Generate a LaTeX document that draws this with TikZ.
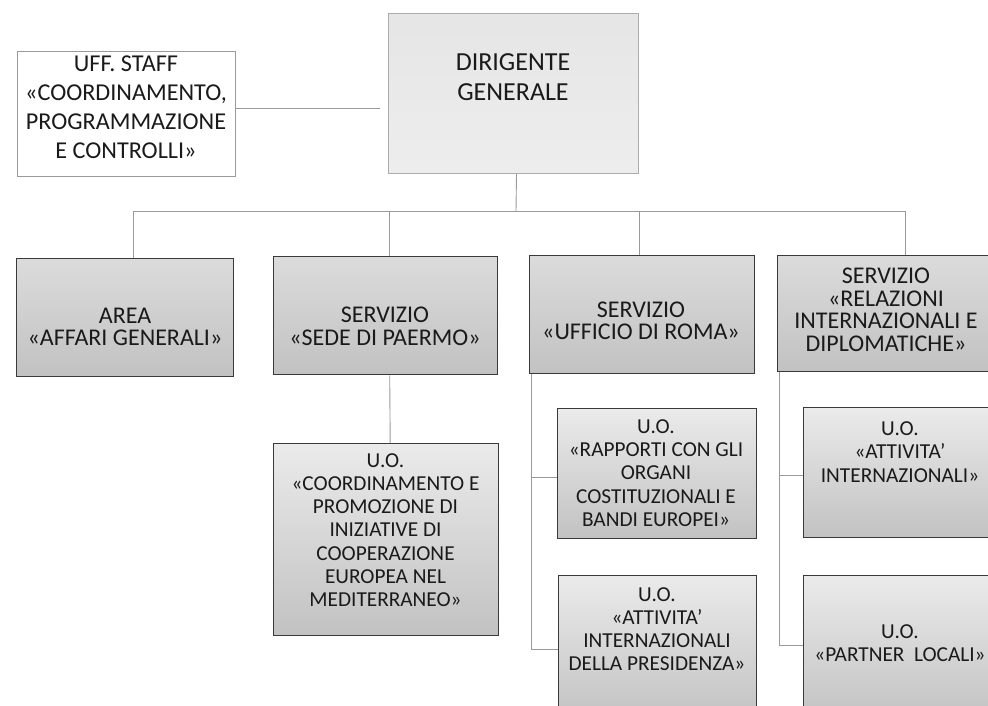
\documentclass[tikz,border=0pt]{standalone}
\usepackage{fontspec}
\setmainfont{Carlito}
\definecolor{inkc}{HTML}{1A1A1A}
\definecolor{linec}{HTML}{9A9A9A}
\definecolor{darkb}{HTML}{3A3A3A}
\begin{document}
\begin{tikzpicture}[x=1pt,y=-1pt,
  boxbase/.style={rectangle, inner sep=0pt, anchor=north west},
  staffbox/.style={boxbase, draw=linec, line width=1pt, fill=white},
  dgbox/.style={boxbase, draw=gray!65, line width=1pt, top color=gray!20, bottom color=gray!14},
  unitbox/.style={boxbase, draw=darkb, line width=1.4pt, top color=gray!28, middle color=gray!14, bottom color=gray!48},
  subbox/.style={boxbase, draw=darkb, line width=1.4pt, top color=gray!16, middle color=gray!20, bottom color=gray!48},
  txt/.style={align=center, inner sep=0pt, text=inkc},
  t24/.style={txt, font=\fontsize{24.2}{29}\selectfont},
  t26/.style={txt, font=\fontsize{26}{30}\selectfont},
  t22/.style={txt, font=\fontsize{24}{22.5}\selectfont},
  t20/.style={txt, font=\fontsize{21.3}{23.2}\selectfont},
  conn/.style={draw=linec, line width=0.9pt}]
\useasboundingbox (0,0) rectangle (988,706);
\fill[white] (0,0) rectangle (988,706);
% boxes
\node[staffbox, minimum width=218pt, minimum height=125pt] (staff) at (17,51) {};
\node[dgbox, minimum width=250pt, minimum height=160pt] (dg) at (388,13) {};
\node[unitbox, minimum width=217pt, minimum height=118pt] (area) at (16,258) {};
\node[unitbox, minimum width=224pt, minimum height=118pt] (sede) at (273,256) {};
\node[unitbox, minimum width=225pt, minimum height=118pt] (roma) at (529,255) {};
\node[unitbox, minimum width=225pt, minimum height=116pt] (rel) at (777,255) {};
\node[subbox, minimum width=225pt, minimum height=192pt] (coord) at (273,443) {};
\node[subbox, minimum width=199pt, minimum height=130pt] (rapp) at (557,408) {};
\node[subbox, minimum width=198pt, minimum height=145pt] (pres) at (558,575) {};
\node[subbox, minimum width=200pt, minimum height=130pt] (attint) at (803,407) {};
\node[subbox, minimum width=200pt, minimum height=145pt] (partner) at (803,575) {};
% texts
\node[t24] (stafft) at (126,107) {UFF. STAFF\\«COORDINAMENTO,\\PROGRAMMAZIONE\\E CONTROLLI»};
\node[t26] (dgt) at (513,77.5) {DIRIGENTE\\GENERALE};
\node[t22] (areat) at (125,327) {AREA\\«AFFARI GENERALI»};
\node[t22] (sedet) at (385,326.5) {SERVIZIO\\«SEDE DI PAERMO»};
\node[t22] (romat) at (641,321) {SERVIZIO\\«UFFICIO DI ROMA»};
\node[t22] (relt) at (886,310) {SERVIZIO\\«RELAZIONI\\INTERNAZIONALI E\\DIPLOMATICHE»};
\node[t20] (coordt) at (385.5,530) {U.O.\\«COORDINAMENTO E\\PROMOZIONE DI\\INIZIATIVE DI\\COOPERAZIONE\\EUROPEA NEL\\MEDITERRANEO»};
\node[t20] (rappt) at (656,473) {U.O.\\«RAPPORTI CON GLI\\ORGANI\\COSTITUZIONALI E\\BANDI EUROPEI»};
\node[t20] (prest) at (657,629) {U.O.\\«ATTIVITA’\\INTERNAZIONALI\\DELLA PRESIDENZA»};
\node[t20] (attintt) at (900,452) {U.O.\\«ATTIVITA’\\INTERNAZIONALI»};
\node[t20] (partnert) at (900,643) {U.O.\\«PARTNER\ \ LOCALI»};
% connectors
\coordinate (j) at (516,211);
\coordinate (sj) at ([yshift=5.5pt]staff.east);
\draw[conn] (sj) -- ([xshift=-8pt]sj -| dg.west);
\draw[conn] ([xshift=3pt]dg.south) -- (j);
\draw[conn] (j) -| ([xshift=8.5pt]area.north);
\draw[conn] (j) -| ([xshift=4pt]sede.north);
\draw[conn] (j) -| ([xshift=-2.5pt]roma.north);
\draw[conn] (j) -| ([xshift=15pt]rel.north);
\draw[conn] ([xshift=4pt]sede.south) -- ([xshift=4pt]coord.north);
\draw[conn] ([xshift=2pt]roma.south west) |- ([yshift=-4pt]rapp.west);
\draw[conn] ([xshift=2pt]roma.south west) |- ([yshift=-1.5pt]pres.west);
\draw[conn] ([xshift=2pt]rel.south west) |- ([yshift=-3pt]attint.west);
\draw[conn] ([xshift=2pt]rel.south west) |- ([yshift=2.5pt]partner.west);
\end{tikzpicture}
\end{document}
